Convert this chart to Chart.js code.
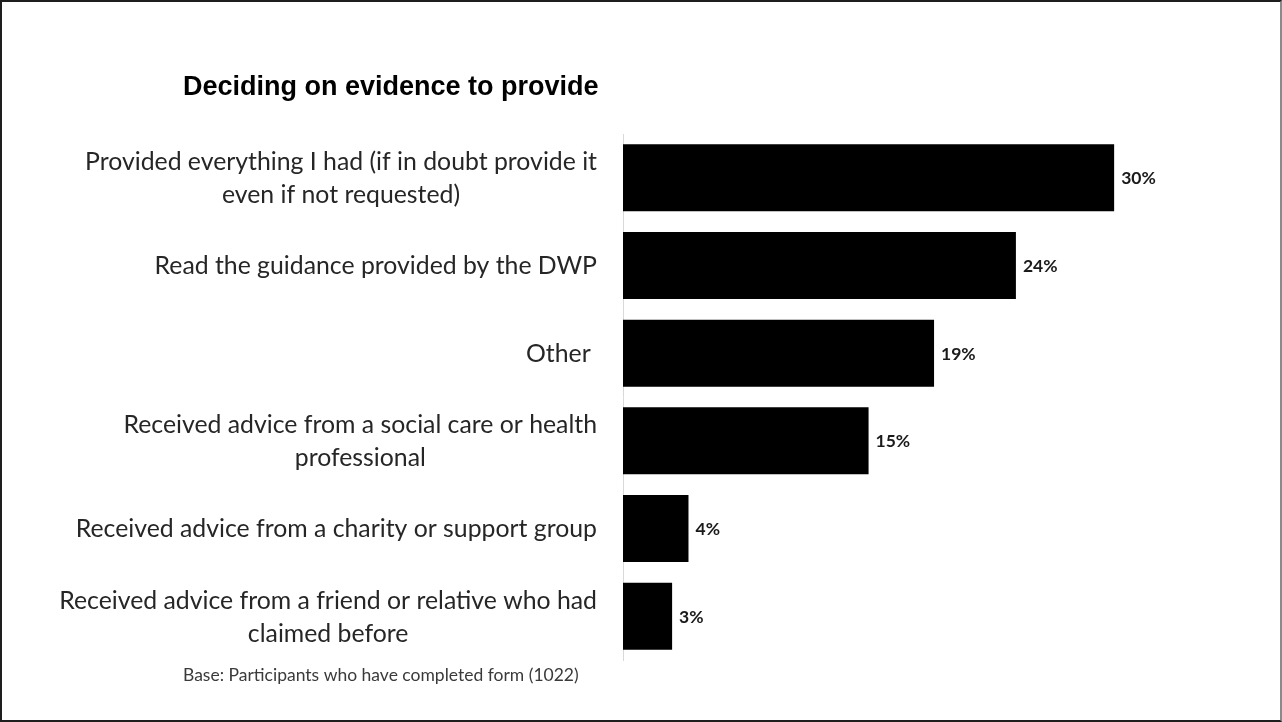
<!DOCTYPE html>
<html>
<head>
<meta charset="utf-8">
<title>Deciding on evidence to provide</title>
<script src="https://cdn.jsdelivr.net/npm/chart.js@4.4.1/dist/chart.umd.min.js"></script>
<style>
  html, body { margin: 0; padding: 0; background: #fff; }
  #wrap { position: relative; width: 1282px; height: 722px; overflow: hidden; }
  #frame { position: absolute; left: 0; top: 0; width: 1282px; height: 722px; box-sizing: border-box;
           border: 2px solid #1e1e1e; border-right-color: #8a8a8a; pointer-events: none; }
  canvas { position: absolute; left: 0; top: 0; }
</style>
</head>
<body>
<div id="wrap">
  <canvas id="chart" width="1282" height="722"></canvas>
  <div id="frame"></div>
</div>
<script>
const chartTitle = 'Deciding on evidence to provide';
const baseNote = 'Base: Participants who have completed form (1022)';

// Each category is a list of display lines
const categories = [
  ['Provided everything I had (if in doubt provide it', 'even if not requested)'],
  ['Read the guidance provided by the DWP'],
  ['Other '],
  ['Received advice from a social care or health', 'professional'],
  ['Received advice from a charity or support group'],
  ['Received advice from a friend or relative who had', 'claimed before']
];
const percentages = [30, 24, 19, 15, 4, 3];

const labelFont = '24.8px Lato, "Open Sans", sans-serif';
const valueFont = 'bold 17.5px Lato, "Open Sans", sans-serif';
const titleFont = 'bold 27px "Liberation Sans", Arial, sans-serif';
const noteFont = '17.5px Lato, "Open Sans", sans-serif';

// Category labels: block right-aligned to the axis, lines centred within the block
const categoryLabels = {
  id: 'categoryLabels',
  afterDraw(chart) {
    const ctx = chart.ctx;
    const yScale = chart.scales.y;
    const rightEdge = chart.chartArea.left - 26;
    const lineHeight = 33;
    ctx.save();
    ctx.font = labelFont;
    ctx.fillStyle = '#262626';
    ctx.textAlign = 'center';
    ctx.textBaseline = 'middle';
    categories.forEach((lines, i) => {
      const yc = yScale.getPixelForValue(i);
      const widest = Math.max(...lines.map(l => ctx.measureText(l).width));
      const cx = rightEdge - widest / 2;
      const y0 = yc - (lines.length - 1) * lineHeight / 2;
      lines.forEach((line, k) => ctx.fillText(line, cx, y0 + k * lineHeight + 1));
    });

    // heading
    ctx.font = titleFont;
    ctx.fillStyle = '#000';
    ctx.textAlign = 'left';
    ctx.textBaseline = 'alphabetic';
    ctx.fillText(chartTitle, 183, 95);

    // base note
    ctx.font = noteFont;
    ctx.fillStyle = '#3a3a3a';
    ctx.textAlign = 'left';
    ctx.textBaseline = 'middle';
    ctx.fillText(baseNote, 183, 675);
    ctx.restore();
  }
};

// Percentage labels at the end of each bar
const valueLabels = {
  id: 'valueLabels',
  afterDatasetsDraw(chart) {
    const ctx = chart.ctx;
    const meta = chart.getDatasetMeta(0);
    ctx.save();
    ctx.font = valueFont;
    ctx.fillStyle = '#1a1a1a';
    ctx.textAlign = 'left';
    ctx.textBaseline = 'middle';
    meta.data.forEach((bar, i) => {
      ctx.fillText(percentages[i] + '%', bar.x + 7, bar.y + 1);
    });
    ctx.restore();
  }
};

new Chart(document.getElementById('chart'), {
  type: 'bar',
  data: {
    labels: categories,
    datasets: [{
      data: percentages,
      backgroundColor: '#000',
      borderWidth: 0,
      barPercentage: 0.765,
      categoryPercentage: 1
    }]
  },
  options: {
    indexAxis: 'y',
    responsive: false,
    animation: false,
    layout: { padding: { left: 623, top: 134, right: 86, bottom: 62 } },
    plugins: { legend: { display: false }, tooltip: { enabled: false } },
    scales: {
      x: { display: false, min: 0, max: 35 },
      y: {
        display: true,
        ticks: { display: false },
        grid: { display: false, drawTicks: false },
        border: { display: true, color: '#d9d9d9', width: 1 }
      }
    }
  },
  plugins: [valueLabels, categoryLabels]
});
</script>
</body>
</html>
